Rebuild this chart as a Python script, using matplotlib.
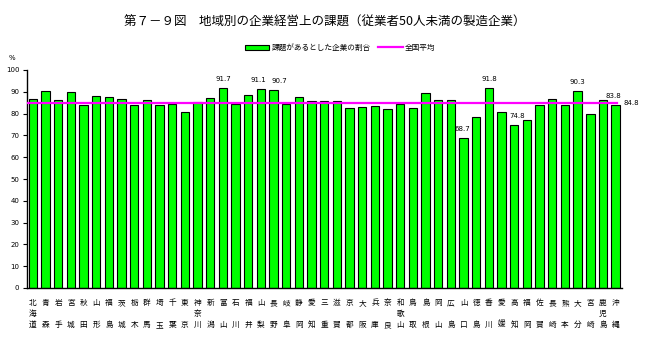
import matplotlib
matplotlib.use("Agg")
import matplotlib.pyplot as plt
from matplotlib.patches import Patch
from matplotlib.lines import Line2D

plt.rcParams['font.family'] = ['Noto Sans CJK JP', 'DejaVu Sans']

prefectures = ["北海道", "青森", "岩手", "宮城", "秋田", "山形", "福島", "茨城", "栃木", "群馬",
               "埼玉", "千葉", "東京", "神奈川", "新潟", "富山", "石川", "福井", "山梨", "長野",
               "岐阜", "静岡", "愛知", "三重", "滋賀", "京都", "大阪", "兵庫", "奈良", "和歌山",
               "鳥取", "島根", "岡山", "広島", "山口", "徳島", "香川", "愛媛", "高知", "福岡",
               "佐賀", "長崎", "熊本", "大分", "宮崎", "鹿児島", "沖縄"]
values = [86.6, 90.4, 86.3, 90.0, 83.9, 88.0, 87.5, 86.6, 83.9, 86.2,
          83.9, 84.6, 80.6, 85.2, 87.1, 91.7, 84.6, 88.5, 91.1, 90.7,
          84.6, 87.5, 85.8, 85.8, 85.8, 82.6, 83.1, 83.4, 82.2, 84.6,
          82.6, 89.4, 86.3, 86.3, 68.7, 78.5, 91.8, 80.6, 74.8, 77.0,
          83.9, 86.8, 83.9, 90.3, 79.7, 86.3, 83.8]
national_avg = 84.8
labeled = ["富山", "山梨", "長野", "山口", "香川", "高知", "大分", "沖縄"]
yticks = [0, 10, 20, 30, 40, 50, 60, 70, 80, 90, 100]

title = "第７－９図　地域別の企業経営上の課題（従業者50人未満の製造企業）"
legend_bar = "課題があるとした企業の割合"
legend_line = "全国平均"

# label nudges (points) to avoid overlaps, as in the reference
label_dx = {"山梨": -1.5, "長野": 4.5, "山口": -1.0, "高知": 2.0, "沖縄": -1.5}

W, H = 650, 361
fig = plt.figure(figsize=(W / 100, H / 100), dpi=100)
fig.patch.set_facecolor("white")
ax = fig.add_axes([27 / W, 1 - 288 / H, (622 - 27) / W, (288 - 70) / H])

x = list(range(len(prefectures)))
ax.bar(x, values, width=0.66, color="#00FF00", edgecolor="black", linewidth=0.8, zorder=2)
ax.plot([-0.46, len(x) - 0.9], [national_avg, national_avg], color="#FF00FF", lw=1.6, zorder=3)

for name in labeled:
    i = prefectures.index(name)
    ax.annotate(f"{values[i]:.1f}", (i, values[i]), xytext=(label_dx.get(name, 0), 6.5),
                textcoords="offset points", ha="center", va="center", fontsize=5,
                family="DejaVu Sans", zorder=4)
ax.annotate(f"{national_avg:.1f}", (len(x) - 0.4, national_avg), xytext=(0, 0),
            textcoords="offset points", ha="left", va="center", fontsize=5,
            family="DejaVu Sans", annotation_clip=False)

ax.set_xlim(-0.46, len(x) - 0.5)
ax.set_ylim(0, 100)
ax.set_yticks(yticks)
ax.set_yticklabels([str(v) for v in yticks], fontsize=5, family="DejaVu Sans")
ax.tick_params(axis="y", length=3, width=0.8, pad=2.5, direction="out")

def vert(name):
    if len(name) == 2:
        return f"{name[0]}\n\n{name[1]}"
    return "\n".join(name)

ax.set_xticks(x)
ax.set_xticklabels([vert(p) for p in prefectures], fontsize=5.5, linespacing=1.5)
ax.tick_params(axis="x", length=0, pad=8)

for s in ["top", "right"]:
    ax.spines[s].set_visible(False)
for s in ["left", "bottom"]:
    ax.spines[s].set_linewidth(1.0)

fig.text(0.5, 1 - 22 / H, title, ha="center", va="center", fontsize=9)
fig.text(12 / W, 1 - 58 / H, "%", ha="center", va="center", fontsize=5, family="DejaVu Sans")

handles = [Patch(facecolor="#00FF00", edgecolor="black", linewidth=0.8),
           Line2D([0], [0], color="#FF00FF", lw=1.6)]
fig.legend(handles, [legend_bar, legend_line], loc="center", bbox_to_anchor=(340 / W, 1 - 48 / H),
           ncol=2, frameon=False, fontsize=5.5, handlelength=3.2, handleheight=0.7,
           handletextpad=0.3, columnspacing=1.0)

fig.savefig("out.png", dpi=100)
